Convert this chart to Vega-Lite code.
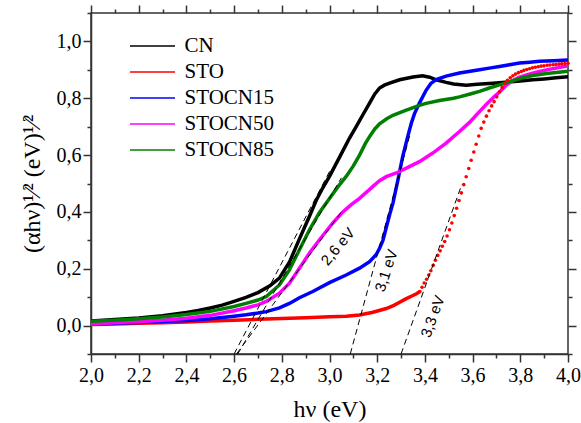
{
  "$schema": "https://vega.github.io/schema/vega-lite/v6.json",
  "width": 477,
  "height": 341,
  "autosize": "none",
  "padding": {"left": 91, "top": 13, "right": 13, "bottom": 69},
  "config": {
    "font": "Liberation Serif",
    "view": {"stroke": "#333333", "strokeWidth": 1.5},
    "axis": {
      "grid": false,
      "domainColor": "#333333",
      "domainWidth": 1.5,
      "tickColor": "#333333",
      "tickWidth": 1.5,
      "labelFont": "Liberation Serif",
      "labelFontSize": 20,
      "labelColor": "#000000",
      "labelFlush": false,
      "labelOverlap": false,
      "titleFont": "Liberation Serif",
      "titleFontSize": 24,
      "titleFontWeight": "normal",
      "titleColor": "#000000"
    },
    "legend": {
      "orient": "none",
      "legendX": 50.5,
      "legendY": 22,
      "padding": 0,
      "labelFont": "Liberation Serif",
      "labelFontSize": 21,
      "labelColor": "#000000",
      "symbolType": "M-2.25,0H2.25",
      "symbolSize": 400,
      "symbolStrokeWidth": 1.5,
      "labelOffset": 21,
      "rowPadding": 5
    }
  },
  "datasets": {
    "spectra": [
      {"s": "CN", "E": 2.0, "v": 0.016}, {"s": "CN", "E": 2.1, "v": 0.021}, {"s": "CN", "E": 2.2, "v": 0.027},
      {"s": "CN", "E": 2.3, "v": 0.035}, {"s": "CN", "E": 2.4, "v": 0.046}, {"s": "CN", "E": 2.45, "v": 0.053},
      {"s": "CN", "E": 2.5, "v": 0.062}, {"s": "CN", "E": 2.55, "v": 0.072}, {"s": "CN", "E": 2.6, "v": 0.085},
      {"s": "CN", "E": 2.65, "v": 0.099}, {"s": "CN", "E": 2.7, "v": 0.116}, {"s": "CN", "E": 2.75, "v": 0.14},
      {"s": "CN", "E": 2.79, "v": 0.167}, {"s": "CN", "E": 2.833, "v": 0.225}, {"s": "CN", "E": 2.874, "v": 0.305},
      {"s": "CN", "E": 2.916, "v": 0.385}, {"s": "CN", "E": 2.944, "v": 0.44}, {"s": "CN", "E": 2.972, "v": 0.485},
      {"s": "CN", "E": 3.0, "v": 0.525}, {"s": "CN", "E": 3.028, "v": 0.57}, {"s": "CN", "E": 3.056, "v": 0.615},
      {"s": "CN", "E": 3.084, "v": 0.66}, {"s": "CN", "E": 3.112, "v": 0.7}, {"s": "CN", "E": 3.14, "v": 0.742},
      {"s": "CN", "E": 3.168, "v": 0.783}, {"s": "CN", "E": 3.19, "v": 0.815}, {"s": "CN", "E": 3.21, "v": 0.836},
      {"s": "CN", "E": 3.23, "v": 0.846}, {"s": "CN", "E": 3.252, "v": 0.853}, {"s": "CN", "E": 3.294, "v": 0.865},
      {"s": "CN", "E": 3.35, "v": 0.875}, {"s": "CN", "E": 3.39, "v": 0.879}, {"s": "CN", "E": 3.42, "v": 0.874},
      {"s": "CN", "E": 3.447, "v": 0.865}, {"s": "CN", "E": 3.489, "v": 0.856}, {"s": "CN", "E": 3.52, "v": 0.85},
      {"s": "CN", "E": 3.573, "v": 0.846}, {"s": "CN", "E": 3.62, "v": 0.849}, {"s": "CN", "E": 3.685, "v": 0.853},
      {"s": "CN", "E": 3.75, "v": 0.857}, {"s": "CN", "E": 3.8, "v": 0.861}, {"s": "CN", "E": 3.852, "v": 0.865},
      {"s": "CN", "E": 3.9, "v": 0.868}, {"s": "CN", "E": 3.95, "v": 0.872}, {"s": "CN", "E": 4.0, "v": 0.876},

      {"s": "STO", "E": 2.0, "v": 0.004}, {"s": "STO", "E": 2.1, "v": 0.006}, {"s": "STO", "E": 2.2, "v": 0.008},
      {"s": "STO", "E": 2.3, "v": 0.01}, {"s": "STO", "E": 2.4, "v": 0.013}, {"s": "STO", "E": 2.5, "v": 0.016},
      {"s": "STO", "E": 2.6, "v": 0.019}, {"s": "STO", "E": 2.7, "v": 0.022}, {"s": "STO", "E": 2.8, "v": 0.025},
      {"s": "STO", "E": 2.9, "v": 0.028}, {"s": "STO", "E": 3.0, "v": 0.031}, {"s": "STO", "E": 3.07, "v": 0.033},
      {"s": "STO", "E": 3.126, "v": 0.037}, {"s": "STO", "E": 3.182, "v": 0.047}, {"s": "STO", "E": 3.238, "v": 0.06},
      {"s": "STO", "E": 3.27, "v": 0.071}, {"s": "STO", "E": 3.294, "v": 0.082}, {"s": "STO", "E": 3.32, "v": 0.094},
      {"s": "STO", "E": 3.345, "v": 0.104}, {"s": "STO", "E": 3.365, "v": 0.112},
      {"s": "STO", "E": 3.379, "v": 0.12}, {"s": "STO", "E": 3.388, "v": 0.135}, {"s": "STO", "E": 3.397, "v": 0.15},
      {"s": "STO", "E": 3.407, "v": 0.163}, {"s": "STO", "E": 3.416, "v": 0.178}, {"s": "STO", "E": 3.425, "v": 0.193},
      {"s": "STO", "E": 3.435, "v": 0.212}, {"s": "STO", "E": 3.444, "v": 0.23}, {"s": "STO", "E": 3.454, "v": 0.247},
      {"s": "STO", "E": 3.464, "v": 0.263}, {"s": "STO", "E": 3.473, "v": 0.279}, {"s": "STO", "E": 3.483, "v": 0.296},
      {"s": "STO", "E": 3.493, "v": 0.315}, {"s": "STO", "E": 3.503, "v": 0.337}, {"s": "STO", "E": 3.513, "v": 0.361},
      {"s": "STO", "E": 3.523, "v": 0.387}, {"s": "STO", "E": 3.533, "v": 0.413}, {"s": "STO", "E": 3.543, "v": 0.44},
      {"s": "STO", "E": 3.553, "v": 0.467}, {"s": "STO", "E": 3.563, "v": 0.496}, {"s": "STO", "E": 3.573, "v": 0.524},
      {"s": "STO", "E": 3.584, "v": 0.553}, {"s": "STO", "E": 3.594, "v": 0.582}, {"s": "STO", "E": 3.605, "v": 0.611},
      {"s": "STO", "E": 3.615, "v": 0.638}, {"s": "STO", "E": 3.626, "v": 0.667}, {"s": "STO", "E": 3.636, "v": 0.694},
      {"s": "STO", "E": 3.647, "v": 0.716}, {"s": "STO", "E": 3.658, "v": 0.737}, {"s": "STO", "E": 3.669, "v": 0.756},
      {"s": "STO", "E": 3.68, "v": 0.773}, {"s": "STO", "E": 3.69, "v": 0.788}, {"s": "STO", "E": 3.701, "v": 0.805},
      {"s": "STO", "E": 3.713, "v": 0.823}, {"s": "STO", "E": 3.724, "v": 0.838}, {"s": "STO", "E": 3.735, "v": 0.852},
      {"s": "STO", "E": 3.746, "v": 0.863}, {"s": "STO", "E": 3.758, "v": 0.872}, {"s": "STO", "E": 3.769, "v": 0.879},
      {"s": "STO", "E": 3.78, "v": 0.885}, {"s": "STO", "E": 3.792, "v": 0.89}, {"s": "STO", "E": 3.804, "v": 0.894},
      {"s": "STO", "E": 3.815, "v": 0.898}, {"s": "STO", "E": 3.827, "v": 0.901}, {"s": "STO", "E": 3.839, "v": 0.904},
      {"s": "STO", "E": 3.851, "v": 0.907}, {"s": "STO", "E": 3.863, "v": 0.909}, {"s": "STO", "E": 3.875, "v": 0.911},
      {"s": "STO", "E": 3.887, "v": 0.913}, {"s": "STO", "E": 3.899, "v": 0.914}, {"s": "STO", "E": 3.912, "v": 0.916},
      {"s": "STO", "E": 3.924, "v": 0.917}, {"s": "STO", "E": 3.937, "v": 0.918}, {"s": "STO", "E": 3.949, "v": 0.919},
      {"s": "STO", "E": 3.962, "v": 0.92}, {"s": "STO", "E": 3.974, "v": 0.921}, {"s": "STO", "E": 3.987, "v": 0.922},
      {"s": "STO", "E": 4.0, "v": 0.923},

      {"s": "STOCN15", "E": 2.0, "v": 0.006}, {"s": "STOCN15", "E": 2.1, "v": 0.008}, {"s": "STOCN15", "E": 2.2, "v": 0.011},
      {"s": "STOCN15", "E": 2.3, "v": 0.014}, {"s": "STOCN15", "E": 2.4, "v": 0.018}, {"s": "STOCN15", "E": 2.5, "v": 0.024},
      {"s": "STOCN15", "E": 2.6, "v": 0.033}, {"s": "STOCN15", "E": 2.65, "v": 0.038}, {"s": "STOCN15", "E": 2.7, "v": 0.044},
      {"s": "STOCN15", "E": 2.735, "v": 0.049}, {"s": "STOCN15", "E": 2.79, "v": 0.062}, {"s": "STOCN15", "E": 2.832, "v": 0.078},
      {"s": "STOCN15", "E": 2.874, "v": 0.098}, {"s": "STOCN15", "E": 2.93, "v": 0.12}, {"s": "STOCN15", "E": 3.0, "v": 0.151},
      {"s": "STOCN15", "E": 3.07, "v": 0.178}, {"s": "STOCN15", "E": 3.126, "v": 0.202}, {"s": "STOCN15", "E": 3.168, "v": 0.225},
      {"s": "STOCN15", "E": 3.196, "v": 0.25}, {"s": "STOCN15", "E": 3.21, "v": 0.272}, {"s": "STOCN15", "E": 3.224, "v": 0.3},
      {"s": "STOCN15", "E": 3.238, "v": 0.345}, {"s": "STOCN15", "E": 3.252, "v": 0.39}, {"s": "STOCN15", "E": 3.266, "v": 0.431},
      {"s": "STOCN15", "E": 3.287, "v": 0.513}, {"s": "STOCN15", "E": 3.307, "v": 0.595}, {"s": "STOCN15", "E": 3.328, "v": 0.665},
      {"s": "STOCN15", "E": 3.343, "v": 0.712}, {"s": "STOCN15", "E": 3.356, "v": 0.745}, {"s": "STOCN15", "E": 3.377, "v": 0.783},
      {"s": "STOCN15", "E": 3.405, "v": 0.828}, {"s": "STOCN15", "E": 3.425, "v": 0.852}, {"s": "STOCN15", "E": 3.447, "v": 0.866},
      {"s": "STOCN15", "E": 3.489, "v": 0.878}, {"s": "STOCN15", "E": 3.545, "v": 0.889}, {"s": "STOCN15", "E": 3.59, "v": 0.895},
      {"s": "STOCN15", "E": 3.629, "v": 0.9}, {"s": "STOCN15", "E": 3.67, "v": 0.906}, {"s": "STOCN15", "E": 3.713, "v": 0.912},
      {"s": "STOCN15", "E": 3.755, "v": 0.918}, {"s": "STOCN15", "E": 3.797, "v": 0.924}, {"s": "STOCN15", "E": 3.84, "v": 0.927},
      {"s": "STOCN15", "E": 3.88, "v": 0.93}, {"s": "STOCN15", "E": 3.94, "v": 0.932}, {"s": "STOCN15", "E": 4.0, "v": 0.935},

      {"s": "STOCN50", "E": 2.0, "v": 0.006}, {"s": "STOCN50", "E": 2.1, "v": 0.01}, {"s": "STOCN50", "E": 2.2, "v": 0.014},
      {"s": "STOCN50", "E": 2.3, "v": 0.019}, {"s": "STOCN50", "E": 2.4, "v": 0.026}, {"s": "STOCN50", "E": 2.5, "v": 0.036},
      {"s": "STOCN50", "E": 2.6, "v": 0.052}, {"s": "STOCN50", "E": 2.65, "v": 0.062}, {"s": "STOCN50", "E": 2.7, "v": 0.073},
      {"s": "STOCN50", "E": 2.735, "v": 0.085}, {"s": "STOCN50", "E": 2.79, "v": 0.114}, {"s": "STOCN50", "E": 2.832, "v": 0.149},
      {"s": "STOCN50", "E": 2.874, "v": 0.202}, {"s": "STOCN50", "E": 2.916, "v": 0.255}, {"s": "STOCN50", "E": 2.958, "v": 0.302},
      {"s": "STOCN50", "E": 3.014, "v": 0.361}, {"s": "STOCN50", "E": 3.056, "v": 0.4}, {"s": "STOCN50", "E": 3.09, "v": 0.425},
      {"s": "STOCN50", "E": 3.126, "v": 0.448}, {"s": "STOCN50", "E": 3.16, "v": 0.473}, {"s": "STOCN50", "E": 3.182, "v": 0.49},
      {"s": "STOCN50", "E": 3.21, "v": 0.51}, {"s": "STOCN50", "E": 3.238, "v": 0.524}, {"s": "STOCN50", "E": 3.28, "v": 0.537},
      {"s": "STOCN50", "E": 3.322, "v": 0.554}, {"s": "STOCN50", "E": 3.377, "v": 0.577}, {"s": "STOCN50", "E": 3.433, "v": 0.607},
      {"s": "STOCN50", "E": 3.489, "v": 0.642}, {"s": "STOCN50", "E": 3.545, "v": 0.683}, {"s": "STOCN50", "E": 3.587, "v": 0.715},
      {"s": "STOCN50", "E": 3.62, "v": 0.745}, {"s": "STOCN50", "E": 3.657, "v": 0.778}, {"s": "STOCN50", "E": 3.69, "v": 0.805},
      {"s": "STOCN50", "E": 3.713, "v": 0.822}, {"s": "STOCN50", "E": 3.741, "v": 0.846}, {"s": "STOCN50", "E": 3.769, "v": 0.862},
      {"s": "STOCN50", "E": 3.797, "v": 0.874}, {"s": "STOCN50", "E": 3.84, "v": 0.886}, {"s": "STOCN50", "E": 3.88, "v": 0.894},
      {"s": "STOCN50", "E": 3.94, "v": 0.905}, {"s": "STOCN50", "E": 4.0, "v": 0.914},

      {"s": "STOCN85", "E": 2.0, "v": 0.015}, {"s": "STOCN85", "E": 2.1, "v": 0.019}, {"s": "STOCN85", "E": 2.2, "v": 0.024},
      {"s": "STOCN85", "E": 2.3, "v": 0.03}, {"s": "STOCN85", "E": 2.4, "v": 0.039}, {"s": "STOCN85", "E": 2.5, "v": 0.05},
      {"s": "STOCN85", "E": 2.6, "v": 0.067}, {"s": "STOCN85", "E": 2.65, "v": 0.078}, {"s": "STOCN85", "E": 2.7, "v": 0.09},
      {"s": "STOCN85", "E": 2.735, "v": 0.102}, {"s": "STOCN85", "E": 2.79, "v": 0.143}, {"s": "STOCN85", "E": 2.832, "v": 0.196},
      {"s": "STOCN85", "E": 2.874, "v": 0.267}, {"s": "STOCN85", "E": 2.916, "v": 0.337}, {"s": "STOCN85", "E": 2.958, "v": 0.398},
      {"s": "STOCN85", "E": 3.0, "v": 0.447}, {"s": "STOCN85", "E": 3.035, "v": 0.488}, {"s": "STOCN85", "E": 3.07, "v": 0.525},
      {"s": "STOCN85", "E": 3.1, "v": 0.562}, {"s": "STOCN85", "E": 3.126, "v": 0.6}, {"s": "STOCN85", "E": 3.15, "v": 0.64},
      {"s": "STOCN85", "E": 3.168, "v": 0.665}, {"s": "STOCN85", "E": 3.19, "v": 0.692}, {"s": "STOCN85", "E": 3.21, "v": 0.71},
      {"s": "STOCN85", "E": 3.24, "v": 0.728}, {"s": "STOCN85", "E": 3.266, "v": 0.74}, {"s": "STOCN85", "E": 3.322, "v": 0.758},
      {"s": "STOCN85", "E": 3.377, "v": 0.775}, {"s": "STOCN85", "E": 3.405, "v": 0.782}, {"s": "STOCN85", "E": 3.461, "v": 0.792},
      {"s": "STOCN85", "E": 3.52, "v": 0.8}, {"s": "STOCN85", "E": 3.545, "v": 0.805}, {"s": "STOCN85", "E": 3.59, "v": 0.815},
      {"s": "STOCN85", "E": 3.629, "v": 0.824}, {"s": "STOCN85", "E": 3.67, "v": 0.836}, {"s": "STOCN85", "E": 3.713, "v": 0.847},
      {"s": "STOCN85", "E": 3.769, "v": 0.862}, {"s": "STOCN85", "E": 3.81, "v": 0.872}, {"s": "STOCN85", "E": 3.852, "v": 0.88},
      {"s": "STOCN85", "E": 3.92, "v": 0.888}, {"s": "STOCN85", "E": 4.0, "v": 0.895}
    ],
    "tangents": [
      {"t": "CN", "E": 2.6, "v": -0.1}, {"t": "CN", "E": 3.005, "v": 0.55},
      {"t": "STOCN85", "E": 2.615, "v": -0.1}, {"t": "STOCN85", "E": 3.05, "v": 0.52},
      {"t": "STOCN50", "E": 2.61, "v": -0.1}, {"t": "STOCN50", "E": 3.05, "v": 0.4},
      {"t": "STOCN15", "E": 3.087, "v": -0.1}, {"t": "STOCN15", "E": 3.34, "v": 0.68},
      {"t": "STO", "E": 3.3, "v": -0.1}, {"t": "STO", "E": 3.555, "v": 0.497}
    ],
    "gaps": [
      {"label": "2,6 eV", "E": 3.035, "v": 0.278},
      {"label": "3,1 eV", "E": 3.238, "v": 0.194},
      {"label": "3,3 eV", "E": 3.433, "v": 0.032}
    ]
  },
  "layer": [
    {
      "data": {"name": "spectra"},
      "transform": [{"filter": "datum.s != 'STO' || datum.E < 3.385"}],
      "mark": {"type": "line", "strokeWidth": 3.5, "interpolate": "linear"},
      "encoding": {
        "x": {
          "field": "E", "type": "quantitative",
          "scale": {"domain": [2, 4], "nice": false, "zero": false},
          "axis": {
            "orient": "bottom",
            "title": "hν (eV)",
            "titlePadding": 12,
            "values": [2.0, 2.1, 2.2, 2.3, 2.4, 2.5, 2.6, 2.7, 2.8, 2.9, 3.0, 3.1, 3.2, 3.3, 3.4, 3.5, 3.6, 3.7, 3.8, 3.9, 4.0],
            "labelExpr": "round(datum.value * 10) % 2 == 0 ? replace(format(datum.value, '.1f'), '.', ',') : ''",
            "labelPadding": 3,
            "tickSize": {"condition": {"test": "round(datum.value * 10) % 2 == 0", "value": 8}, "value": 4}
          }
        },
        "y": {
          "field": "v", "type": "quantitative",
          "scale": {"domain": [-0.1, 1.1], "nice": false, "zero": false},
          "axis": {
            "orient": "left",
            "title": "(αhν)¹⁄² (eV)¹⁄²",
            "titlePadding": 12,
            "values": [-0.1, 0.0, 0.1, 0.2, 0.3, 0.4, 0.5, 0.6, 0.7, 0.8, 0.9, 1.0, 1.1],
            "labelExpr": "(round(datum.value * 10) % 2 == 0 && datum.value > -0.05 && datum.value < 1.05) ? replace(format(datum.value, '.1f'), '.', ',') : ''",
            "labelPadding": 2,
            "tickSize": {"condition": {"test": "round(datum.value * 10) % 2 == 0", "value": 8}, "value": 4}
          }
        },
        "color": {
          "field": "s", "type": "nominal",
          "scale": {
            "domain": ["CN", "STO", "STOCN15", "STOCN50", "STOCN85"],
            "range": ["#000000", "#ff0000", "#0000ff", "#ff00ff", "#008000"]
          },
          "legend": {"title": null}
        }
      }
    },
    {
      "data": {"name": "spectra"},
      "transform": [{"filter": "datum.s == 'STO' && datum.E > 3.37"}],
      "mark": {"type": "circle", "size": 13, "opacity": 1, "color": "#ff0000"},
      "encoding": {
        "x": {"field": "E", "type": "quantitative", "axis": null},
        "y": {"field": "v", "type": "quantitative", "axis": null}
      }
    },
    {
      "data": {"name": "tangents"},
      "mark": {"type": "line", "color": "#000000", "strokeWidth": 1, "strokeDash": [6, 4]},
      "encoding": {
        "x": {
          "field": "E", "type": "quantitative",
          "axis": {
            "orient": "top", "title": null, "labels": false, "domain": false,
            "values": [2.0, 2.1, 2.2, 2.3, 2.4, 2.5, 2.6, 2.7, 2.8, 2.9, 3.0, 3.1, 3.2, 3.3, 3.4, 3.5, 3.6, 3.7, 3.8, 3.9, 4.0],
            "tickSize": {"condition": {"test": "round(datum.value * 10) % 2 == 0", "value": 8}, "value": 4}
          }
        },
        "y": {
          "field": "v", "type": "quantitative",
          "axis": {
            "orient": "right", "title": null, "labels": false, "domain": false,
            "values": [-0.1, 0.0, 0.1, 0.2, 0.3, 0.4, 0.5, 0.6, 0.7, 0.8, 0.9, 1.0, 1.1],
            "tickSize": {"condition": {"test": "round(datum.value * 10) % 2 == 0", "value": 8}, "value": 4}
          }
        },
        "detail": {"field": "t", "type": "nominal"}
      }
    },
    {
      "data": {"name": "gaps"},
      "transform": [{"filter": "datum.label == '2,6 eV'"}],
      "mark": {"type": "text", "font": "Liberation Sans", "fontSize": 15, "angle": -50, "align": "center", "baseline": "middle"},
      "encoding": {
        "x": {"field": "E", "type": "quantitative", "axis": null},
        "y": {"field": "v", "type": "quantitative", "axis": null},
        "text": {"field": "label"}
      }
    },
    {
      "data": {"name": "gaps"},
      "transform": [{"filter": "datum.label == '3,1 eV'"}],
      "mark": {"type": "text", "font": "Liberation Sans", "fontSize": 15, "angle": -72, "align": "center", "baseline": "middle"},
      "encoding": {
        "x": {"field": "E", "type": "quantitative", "axis": null},
        "y": {"field": "v", "type": "quantitative", "axis": null},
        "text": {"field": "label"}
      }
    },
    {
      "data": {"name": "gaps"},
      "transform": [{"filter": "datum.label == '3,3 eV'"}],
      "mark": {"type": "text", "font": "Liberation Sans", "fontSize": 15, "angle": -70, "align": "center", "baseline": "middle"},
      "encoding": {
        "x": {"field": "E", "type": "quantitative", "axis": null},
        "y": {"field": "v", "type": "quantitative", "axis": null},
        "text": {"field": "label"}
      }
    }
  ],
  "resolve": {"axis": {"x": "independent", "y": "independent"}}
}
